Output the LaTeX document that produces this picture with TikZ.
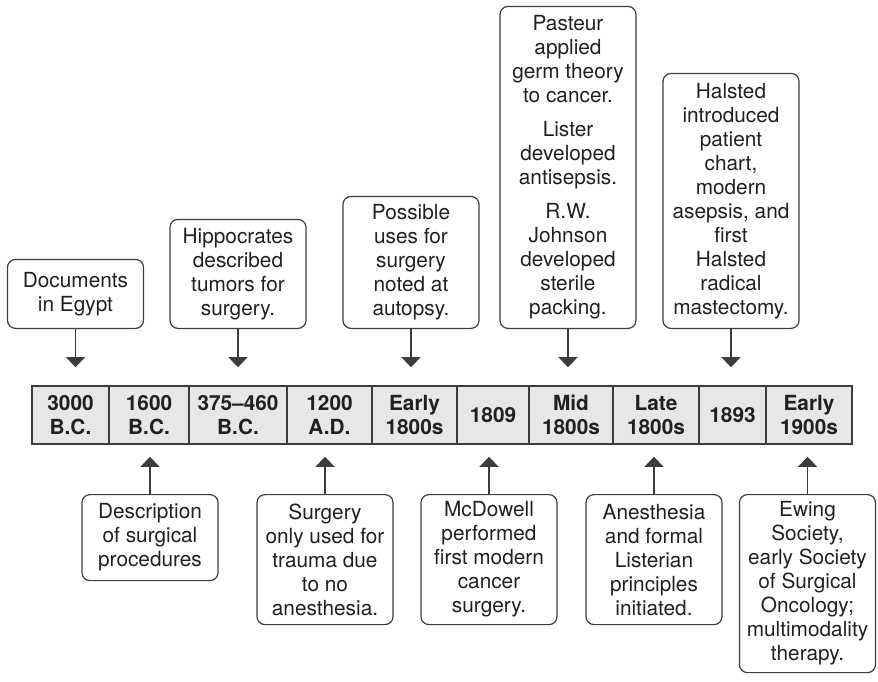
\documentclass[tikz,border=0pt]{standalone}
\usepackage{fontspec}
\setmainfont{TeX Gyre Heros}
\usetikzlibrary{arrows.meta}
\definecolor{inkgray}{HTML}{231F20}
\definecolor{linegray}{HTML}{3C3C3C}
\definecolor{barfill}{HTML}{E6E7E8}
\tikzset{
	notebox/.style={rectangle, rounded corners=4pt, draw=linegray, line width=0.6pt, text=inkgray, align=center, minimum width=68pt, inner sep=2pt, font=\fontsize{10.4}{12}\selectfont},
	yearcell/.style={rectangle, draw=linegray, fill=barfill, line width=0.8pt, text=inkgray, align=center, minimum height=29pt, inner sep=0pt, font=\bfseries\fontsize{10.4}{12}\selectfont},
	pointer/.style={draw=linegray, line width=0.7pt, -{Triangle[width=9.5pt,length=5pt]}}
}
\begin{document}
\begin{tikzpicture}[x=0.5pt,y=-0.5pt]
			\useasboundingbox (0,0) rectangle (878,681);
			
			% time bar
			\node[yearcell, minimum width=38.5pt] (c1) at (70.5,415) {3000\\B.C.};
			\node[yearcell, minimum width=40pt] (c2) at (149,415) {1600\\B.C.};
			\node[yearcell, minimum width=49pt] (c3) at (238,415) {375--460\\B.C.};
			\node[yearcell, minimum width=42.5pt] (c4) at (329.5,415) {1200\\A.D.};
			\node[yearcell, minimum width=42.5pt] (c5) at (414.5,415) {Early\\1800s};
			\node[yearcell, minimum width=36pt] (c6) at (493,415) {1809};
			\node[yearcell, minimum width=42pt] (c7) at (571,415) {Mid\\1800s};
			\node[yearcell, minimum width=43pt] (c8) at (656,415) {Late\\1800s};
			\node[yearcell, minimum width=33.5pt] (c9) at (732.5,415) {1893};
			\node[yearcell, minimum width=43pt] (c10) at (809,415) {Early\\1900s};
			
			% events above the bar
			\node[notebox, anchor=south, minimum height=34.5pt] (egypt) at (75.5,329) {Documents\\in Egypt};
			\node[notebox, anchor=south, minimum height=54.5pt] (hippo) at (238,329) {Hippocrates\\described\\tumors for\\surgery.};
			\node[notebox, anchor=south, minimum height=66pt] (autopsy) at (411,329) {Possible\\uses for\\surgery\\noted at\\autopsy.};
			\node[notebox, anchor=south, minimum height=161pt] (pasteur) at (568,329) {Pasteur\\applied\\germ theory\\to cancer.\\[5pt]Lister\\developed\\antisepsis.\\[5pt]R.W.\\Johnson\\developed\\sterile\\packing.};
			\node[notebox, anchor=south, minimum height=127.5pt] (halsted) at (731,329) {Halsted\\introduced\\patient\\chart,\\modern\\asepsis, and\\first\\Halsted\\radical\\mastectomy.};
			
			% events below the bar
			\node[notebox, anchor=north, minimum height=43pt] (descr) at (150,494) {Description\\of surgical\\procedures};
			\node[notebox, anchor=north, minimum height=65pt] (trauma) at (325,494) {Surgery\\only used for\\trauma due\\to no\\anesthesia.};
			\node[notebox, anchor=north, minimum height=65pt] (mcdowell) at (489,494) {McDowell\\performed\\first modern\\cancer\\surgery.};
			\node[notebox, anchor=north, minimum height=65pt] (listerian) at (654,494) {Anesthesia\\and formal\\Listerian\\principles\\initiated.};
			\node[notebox, anchor=north, minimum height=89pt] (ewing) at (807.5,494) {Ewing\\Society,\\early Society\\of Surgical\\Oncology;\\multimodality\\therapy.};
			
			% arrows
			\draw[pointer, shorten >=9pt] (egypt.south) -- (egypt.south |- c1.north);
			\draw[pointer, shorten >=9pt] (hippo.south) -- (hippo.south |- c3.north);
			\draw[pointer, shorten >=9pt] (autopsy.south) -- (autopsy.south |- c5.north);
			\draw[pointer, shorten >=9pt] (pasteur.south) -- (pasteur.south |- c7.north);
			\draw[pointer, shorten >=9pt] (halsted.south) -- (halsted.south |- c9.north);
			\draw[pointer, shorten >=6pt] (descr.north) -- (descr.north |- c2.south);
			\draw[pointer, shorten >=6pt] (trauma.north) -- (trauma.north |- c4.south);
			\draw[pointer, shorten >=6pt] (mcdowell.north) -- (mcdowell.north |- c6.south);
			\draw[pointer, shorten >=6pt] (listerian.north) -- (listerian.north |- c8.south);
			\draw[pointer, shorten >=6pt] (ewing.north) -- (ewing.north |- c10.south);
		\end{tikzpicture}
\end{document}
